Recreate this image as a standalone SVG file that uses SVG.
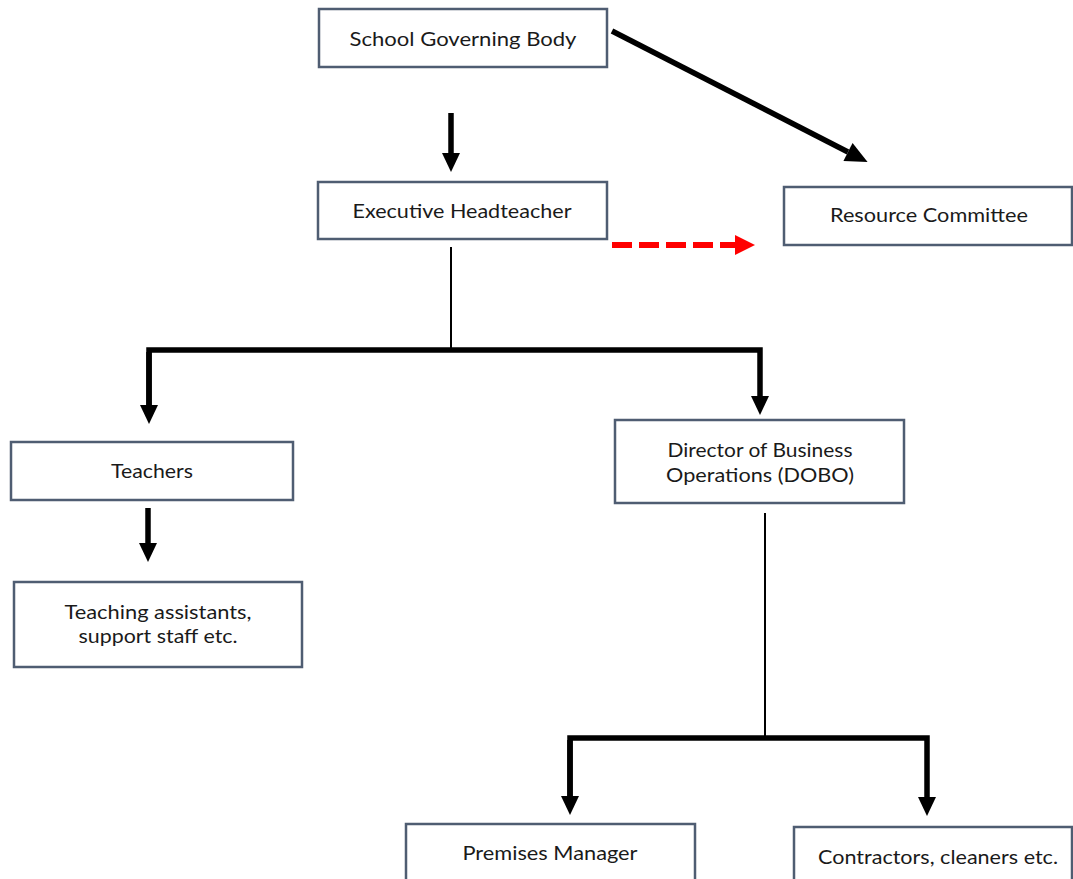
<svg xmlns="http://www.w3.org/2000/svg" width="1073" height="879" viewBox="0 0 1073 879">
<style>
.box{fill:#fff;stroke:#4f5d72;stroke-width:2.5}
.t{font-family:Lato,"Liberation Sans",sans-serif;font-size:20px;fill:#1a1a1a;text-anchor:middle}
.conn{fill:none;stroke:#000;stroke-width:5.5;stroke-linejoin:miter}
.thin{fill:none;stroke:#000;stroke-width:2}
.red{fill:none;stroke:#ff0000;stroke-width:6;stroke-dasharray:20 7}
</style>
<defs>
<marker id="ah" markerUnits="userSpaceOnUse" markerWidth="20" markerHeight="20" refX="0" refY="9" orient="auto" overflow="visible"><path d="M0,0 L19,9 L0,18 z" fill="#000"/></marker>
<marker id="ahd" markerUnits="userSpaceOnUse" markerWidth="24" markerHeight="24" refX="0" refY="10" orient="auto" overflow="visible"><path d="M0,0 L22,10 L0,20 z" fill="#000"/></marker>
<marker id="ahr" markerUnits="userSpaceOnUse" markerWidth="22" markerHeight="22" refX="0" refY="10" orient="auto" overflow="visible"><path d="M0,0 L20,10 L0,20 z" fill="#ff0000"/></marker>
</defs>
<g id="connectors">
<line class="conn" x1="451" y1="113" x2="451" y2="153" marker-end="url(#ah)"/>
<line class="conn" x1="612" y1="31" x2="848" y2="152" marker-end="url(#ahd)"/>
<line class="red" x1="612" y1="245" x2="735" y2="245" marker-end="url(#ahr)"/>
<line class="thin" x1="451" y1="247" x2="451" y2="350"/>
<path class="conn" d="M149,405 V350 H760 V396" marker-end="url(#ah)"/>
<path class="conn" d="M149,352 V405" marker-end="url(#ah)"/>
<line class="conn" x1="148" y1="508" x2="148" y2="543" marker-end="url(#ah)"/>
<line class="thin" x1="765" y1="513" x2="765" y2="738"/>
<path class="conn" d="M570,796 V738 H927 V797" marker-end="url(#ah)"/>
<path class="conn" d="M570,740 V796" marker-end="url(#ah)"/>
</g>
<g id="sgb"><rect class="box" x="319" y="9" width="288" height="58"/><text class="t" x="463" y="46" textLength="227" lengthAdjust="spacingAndGlyphs">School Governing Body</text></g>
<g id="eh"><rect class="box" x="318" y="182" width="289" height="57"/><text class="t" x="462" y="218" textLength="219" lengthAdjust="spacingAndGlyphs">Executive Headteacher</text></g>
<g id="rc"><rect class="box" x="784" y="187" width="288" height="58"/><text class="t" x="929" y="222" textLength="198" lengthAdjust="spacingAndGlyphs">Resource Committee</text></g>
<g id="teachers"><rect class="box" x="11" y="442" width="282" height="58"/><text class="t" x="152" y="478" textLength="82" lengthAdjust="spacingAndGlyphs">Teachers</text></g>
<g id="ta"><rect class="box" x="14" y="582" width="288" height="85"/><text class="t" x="158" y="619" textLength="187" lengthAdjust="spacingAndGlyphs">Teaching assistants,</text><text class="t" x="158" y="643" textLength="159" lengthAdjust="spacingAndGlyphs">support staff etc.</text></g>
<g id="dobo"><rect class="box" x="615" y="420" width="289" height="83"/><text class="t" x="760" y="457" textLength="185" lengthAdjust="spacingAndGlyphs">Director of Business</text><text class="t" x="760" y="482" textLength="188" lengthAdjust="spacingAndGlyphs">Operations (DOBO)</text></g>
<g id="pm"><rect class="box" x="406" y="824" width="289" height="70"/><text class="t" x="550" y="860" textLength="175" lengthAdjust="spacingAndGlyphs">Premises Manager</text></g>
<g id="contractors"><rect class="box" x="794" y="827" width="278" height="70"/><text class="t" x="938" y="864" textLength="240" lengthAdjust="spacingAndGlyphs">Contractors, cleaners etc.</text></g>
</svg>
